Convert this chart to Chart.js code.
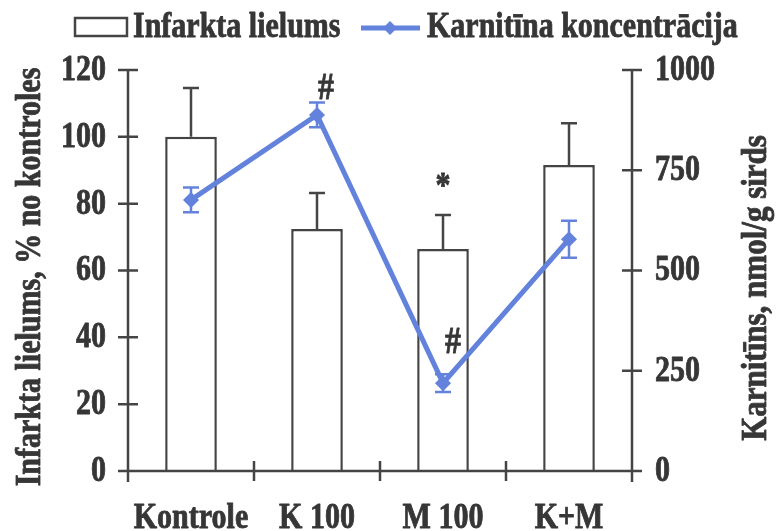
<!DOCTYPE html>
<html>
<head>
<meta charset="utf-8">
<script src="https://cdn.jsdelivr.net/npm/chart.js@4/dist/chart.umd.min.js"></script>
<style>
  html, body { margin: 0; padding: 0; background: #ffffff; }
  #wrap { width: 778px; height: 531px; }
</style>
</head>
<body>
<div id="wrap"><canvas id="c" width="778" height="531"></canvas></div>
<script>
// Groups along the x axis
const categories = ['Kontrole', 'K 100', 'M 100', 'K+M'];
// Infarct size, % of control (bars) and its upper error
const infarctSize = [100, 72.4, 66.4, 91.6];
const infarctErr = [14.6, 10.8, 10.2, 12.5];
// Carnitine concentration, nmol/g heart (line) and its error
const carnitine = [676, 888, 219, 578];
const carnitineErr = [31, 31, 22, 46];
// Axis ranges and steps
const leftAxis = { min: 0, max: 120, step: 20 };
const rightAxis = { min: 0, max: 1000, step: 250 };
// Significance marks: which series, which group, symbol
const sigMarks = [
  { series: 'line', index: 1, text: '#' },
  { series: 'bar', index: 2, text: '*' },
  { series: 'line', index: 2, text: '#' }
];

const INK = '#363636';
const BLUE = '#6382dc';
const FONT = '"Liberation Serif", "Times New Roman", serif';
const STRETCH = 1.16; // tall, narrow type

function paint(ctx, s, size, align) {
  ctx.font = 'bold ' + size + 'px ' + FONT;
  ctx.fillStyle = INK;
  ctx.strokeStyle = INK;
  ctx.lineWidth = 0.7;
  ctx.lineJoin = 'round';
  ctx.textAlign = align || 'center';
  ctx.textBaseline = 'middle';
  ctx.fillText(s, 0, 0);
  ctx.strokeText(s, 0, 0);
}
function text(ctx, s, x, y, size, align) {
  ctx.save();
  ctx.translate(x, y);
  ctx.scale(1, STRETCH);
  paint(ctx, s, size, align);
  ctx.restore();
}
function vtext(ctx, s, x, y, size) {
  ctx.save();
  ctx.translate(x, y);
  ctx.rotate(-Math.PI / 2);
  ctx.scale(1, STRETCH);
  paint(ctx, s, size, 'center');
  ctx.restore();
}
function diamond(ctx, x, y, r) {
  ctx.beginPath();
  ctx.moveTo(x, y - r); ctx.lineTo(x + r, y); ctx.lineTo(x, y + r); ctx.lineTo(x - r, y);
  ctx.closePath(); ctx.fill();
}

// Axes with crossing tick marks, labels, titles, error bars, marks and legend
const decor = {
  id: 'decor',
  afterDatasetsDraw(chart) {
    const ctx = chart.ctx;
    const xs = chart.scales.x, yl = chart.scales.y, yr = chart.scales.y2;
    const a = chart.chartArea;
    const T = 10;

    // error bars of the infarct-size bars (upper whisker only)
    ctx.save();
    ctx.strokeStyle = '#454545';
    ctx.lineWidth = 2.5;
    infarctSize.forEach((v, i) => {
      const x = xs.getPixelForValue(i);
      const y0 = yl.getPixelForValue(v), y1 = yl.getPixelForValue(v + infarctErr[i]);
      ctx.beginPath();
      ctx.moveTo(x, y0); ctx.lineTo(x, y1);
      ctx.moveTo(x - 8, y1); ctx.lineTo(x + 8, y1);
      ctx.stroke();
    });
    ctx.restore();

    // error bars of the carnitine line
    ctx.save();
    ctx.strokeStyle = BLUE;
    ctx.lineWidth = 2.5;
    carnitine.forEach((v, i) => {
      const x = xs.getPixelForValue(i);
      const y0 = yr.getPixelForValue(v - carnitineErr[i]), y1 = yr.getPixelForValue(v + carnitineErr[i]);
      ctx.beginPath();
      ctx.moveTo(x, y0); ctx.lineTo(x, y1);
      ctx.moveTo(x - 8, y0); ctx.lineTo(x + 8, y0);
      ctx.moveTo(x - 8, y1); ctx.lineTo(x + 8, y1);
      ctx.stroke();
    });
    ctx.restore();

    // axes
    ctx.save();
    ctx.strokeStyle = '#444444';
    ctx.lineWidth = 2.5;
    const yb = yl.getPixelForValue(leftAxis.min);
    ctx.beginPath();
    ctx.moveTo(a.left, yl.getPixelForValue(leftAxis.max)); ctx.lineTo(a.left, yb + T + 1);
    ctx.moveTo(a.right, yr.getPixelForValue(rightAxis.max)); ctx.lineTo(a.right, yb + T + 1);
    ctx.moveTo(a.left - T, yb); ctx.lineTo(a.right + T, yb);
    yl.ticks.forEach(t => {
      const y = yl.getPixelForValue(t.value);
      ctx.moveTo(a.left - T, y); ctx.lineTo(a.left + T, y);
    });
    yr.ticks.forEach(t => {
      const y = yr.getPixelForValue(t.value);
      ctx.moveTo(a.right - T, y); ctx.lineTo(a.right + T, y);
    });
    const half = (xs.getPixelForValue(1) - xs.getPixelForValue(0)) / 2;
    for (let i = 0; i < categories.length - 1; i++) {
      const x = xs.getPixelForValue(i) + half;
      ctx.moveTo(x, yb - T); ctx.lineTo(x, yb + T);
    }
    ctx.stroke();
    ctx.restore();

    // tick labels
    yl.ticks.forEach(t => text(ctx, String(t.value), a.left - 22, yl.getPixelForValue(t.value) + 1, 30, 'right'));
    yr.ticks.forEach(t => text(ctx, String(t.value), a.right + 23, yr.getPixelForValue(t.value) + 1, 30, 'left'));
    categories.forEach((c, i) => text(ctx, c, xs.getPixelForValue(i), yb + 48, 30, 'center'));

    // axis titles
    vtext(ctx, 'Infarkta lielums, % no kontroles', 31, 277, 30);
    vtext(ctx, 'Karnitīns, nmol/g sirds', 757, 288, 31);

    // significance marks
    sigMarks.forEach(m => {
      const x = xs.getPixelForValue(m.index);
      if (m.series === 'bar') {
        const y = yl.getPixelForValue(infarctSize[m.index] + infarctErr[m.index]);
        text(ctx, m.text, x, y - 27, 30, 'center');
      } else if (m.index === 1) {
        const y = yr.getPixelForValue(carnitine[m.index] + carnitineErr[m.index]);
        text(ctx, m.text, x + 9, y - 13, 32, 'center');
      } else {
        const y = yr.getPixelForValue(carnitine[m.index]);
        text(ctx, m.text, x + 10, y - 40, 32, 'center');
      }
    });

    // legend
    ctx.save();
    ctx.strokeStyle = '#444444';
    ctx.lineWidth = 2.5;
    ctx.strokeRect(75, 18, 52, 18);
    ctx.strokeStyle = BLUE;
    ctx.fillStyle = BLUE;
    ctx.lineWidth = 5;
    ctx.beginPath(); ctx.moveTo(361, 28); ctx.lineTo(420, 28); ctx.stroke();
    diamond(ctx, 390, 28, 7);
    ctx.restore();
    text(ctx, 'Infarkta lielums', 133, 28, 30, 'left');
    text(ctx, 'Karnitīna koncentrācija', 427, 28, 30, 'left');
  }
};

new Chart(document.getElementById('c'), {
  data: {
    labels: categories,
    datasets: [
      {
        type: 'line',
        label: 'Karnitīna koncentrācija',
        data: carnitine,
        yAxisID: 'y2',
        borderColor: BLUE,
        backgroundColor: BLUE,
        borderWidth: 5,
        pointStyle: 'rectRot',
        pointRadius: 8,
        pointBorderWidth: 0,
        tension: 0,
        order: 0
      },
      {
        type: 'bar',
        label: 'Infarkta lielums',
        data: infarctSize,
        yAxisID: 'y',
        backgroundColor: '#ffffff',
        borderColor: '#444444',
        borderWidth: 2.5,
        categoryPercentage: 1,
        barPercentage: 0.41,
        order: 1
      }
    ]
  },
  options: {
    responsive: false,
    animation: false,
    layout: { padding: { left: 0, right: 0, top: 70, bottom: 0 } },
    plugins: { legend: { display: false }, tooltip: { enabled: false } },
    scales: {
      x: {
        type: 'category',
        offset: true,
        grid: { display: false },
        border: { display: false },
        ticks: { display: false },
        afterFit: s => { s.height = 60; }
      },
      y: {
        position: 'left',
        min: leftAxis.min, max: leftAxis.max,
        grid: { display: false },
        border: { display: false },
        ticks: { display: false, stepSize: leftAxis.step },
        afterFit: s => { s.width = 128; }
      },
      y2: {
        position: 'right',
        min: rightAxis.min, max: rightAxis.max,
        grid: { display: false },
        border: { display: false },
        ticks: { display: false, stepSize: rightAxis.step },
        afterFit: s => { s.width = 146; }
      }
    }
  },
  plugins: [decor]
});
</script>
</body>
</html>
